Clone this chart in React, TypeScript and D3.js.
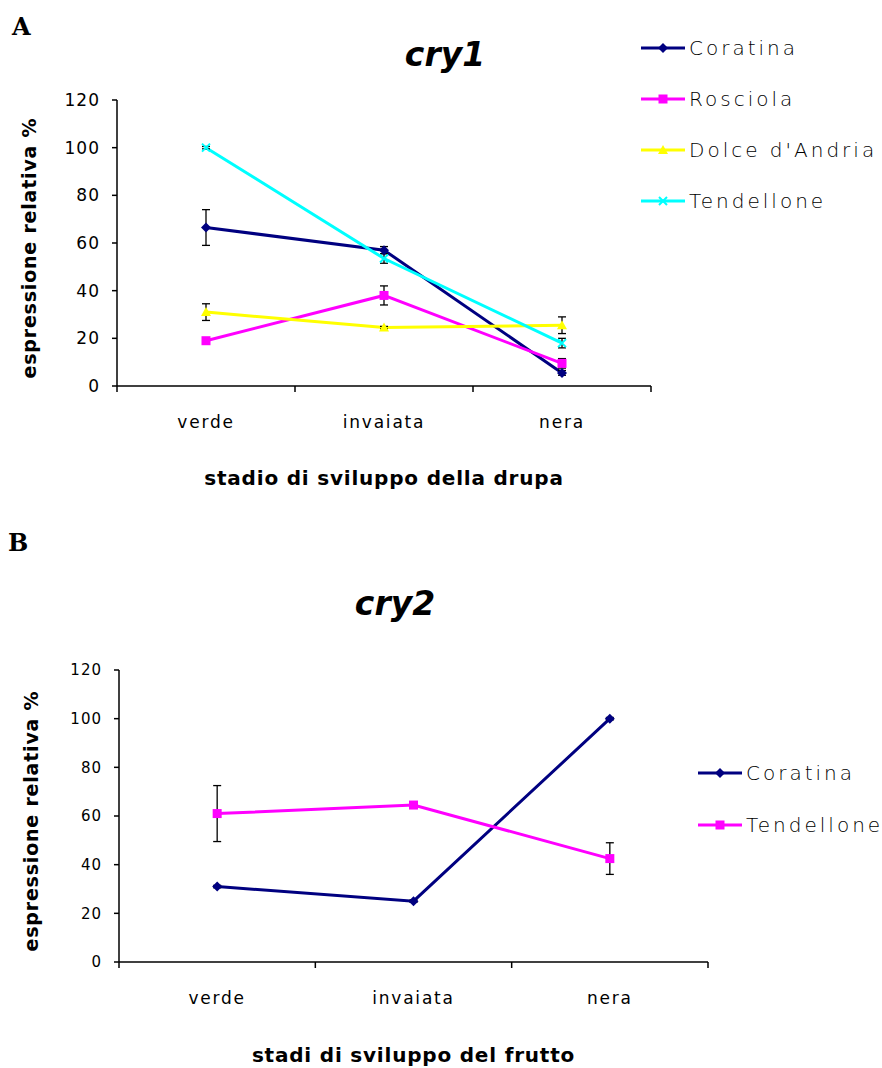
import React from 'react';
import * as d3 from 'd3';

// stages of the drupe
const stages = ['verde', 'invaiata', 'nera'];

// cry1 (panel A)
const cry1Names = ['Coratina', 'Rosciola', "Dolce d'Andria", 'Tendellone'];
const cry1Coratina = [66.5, 57, 5.5];
const cry1Rosciola = [19, 38, 9.5];
const cry1Dolce = [31, 24.5, 25.5];
const cry1Tendellone = [100, 53.5, 18];
const cry1CoratinaErr = [7.5, 1.5, 1];
const cry1RosciolaErr = [0.5, 4, 2];
const cry1DolceErr = [3.5, 0.5, 3.5];
const cry1TendelloneErr = [0.5, 2, 2];

// cry2 (panel B)
const cry2Names = ['Coratina', 'Tendellone'];
const cry2Coratina = [31, 25, 100];
const cry2Tendellone = [61, 64.5, 42.5];
const cry2CoratinaErr = [0.5, 0.5, 0.5];
const cry2TendelloneErr = [11.5, 0.5, 6.5];

const yTicks = [0, 20, 40, 60, 80, 100, 120];

const colors = ['#000080', '#ff00ff', '#ffff00', '#00ffff'];
const shapes = ['diamond', 'square', 'triangle', 'cross'];

const labelFont = '"DejaVu Sans", Verdana, sans-serif';

function Marker({ shape, x, y, color }) {
  if (shape === 'diamond') {
    const s = 5;
    return <path d={`M${x},${y - s}L${x + s},${y}L${x},${y + s}L${x - s},${y}Z`} fill={color} />;
  }
  if (shape === 'square') {
    return <rect x={x - 4.5} y={y - 4.5} width={9} height={9} fill={color} />;
  }
  if (shape === 'triangle') {
    return <path d={`M${x},${y - 5}L${x + 5},${y + 4}L${x - 5},${y + 4}Z`} fill={color} />;
  }
  return (
    <path d={`M${x - 4},${y - 4}L${x + 4},${y + 4}M${x + 4},${y - 4}L${x - 4},${y + 4}`} stroke={color} strokeWidth={2} />
  );
}

function LineChart({ left, top, width, height, series, title, titleX, titleY, xTitle, xTitleY, yTitleX, tickSize, legendX, legendY, legendGap }) {
  const x = d3.scaleBand().domain(stages).range([left, left + width]);
  const y = d3.scaleLinear().domain([0, 120]).range([top + height, top]);
  const cx = (s) => x(s) + x.bandwidth() / 2;
  const line = d3.line().x((d, i) => cx(stages[i])).y((d) => y(d));
  const bounds = [left, ...stages.map((s) => x(s) + x.bandwidth())];

  return (
    <g>
      {/* axes */}
      <line x1={left} x2={left} y1={top} y2={top + height} stroke="#000" strokeWidth={1.5} />
      <line x1={left} x2={left + width} y1={top + height} y2={top + height} stroke="#000" strokeWidth={1.5} />
      {yTicks.map((t) => (
        <g key={t}>
          <line x1={left - 5} x2={left} y1={y(t)} y2={y(t)} stroke="#000" strokeWidth={1.5} />
          <text x={left - 17} y={y(t)} dy="0.35em" textAnchor="end" fontSize={tickSize} letterSpacing={1} fontFamily={labelFont}>{t}</text>
        </g>
      ))}
      {bounds.map((b, i) => (
        <line key={i} x1={b} x2={b} y1={top + height} y2={top + height + 6} stroke="#000" strokeWidth={1.5} />
      ))}
      {stages.map((s) => (
        <text key={s} x={cx(s)} y={top + height + 42} textAnchor="middle" fontSize={17} letterSpacing={1.8} fontFamily={labelFont}>{s}</text>
      ))}
      <text x={left + width / 2} y={xTitleY} textAnchor="middle" fontSize={20} letterSpacing={0.8} fontWeight="bold" fontFamily={labelFont}>{xTitle}</text>
      <text transform={`translate(${yTitleX},${top + height / 2 + 5}) rotate(-90)`} textAnchor="middle" fontSize={19} letterSpacing={0.8} fontWeight="bold" fontFamily={labelFont}>espressione relativa %</text>
      <text x={titleX} y={titleY} textAnchor="middle" fontSize={33} fontWeight="bold" fontStyle="italic" fontFamily={labelFont}>{title}</text>

      {/* lines */}
      {series.map((sr) => (
        <path key={sr.name} d={line(sr.values)} fill="none" stroke={sr.color} strokeWidth={3} />
      ))}
      {/* error bars */}
      {series.map((sr) =>
        sr.values.map((v, i) => {
          const px = cx(stages[i]);
          const y1 = y(v + sr.err[i]);
          const y2 = y(v - sr.err[i]);
          return (
            <g key={sr.name + i} stroke="#000" strokeWidth={1.3}>
              <line x1={px} x2={px} y1={y1} y2={y2} />
              <line x1={px - 4} x2={px + 4} y1={y1} y2={y1} />
              <line x1={px - 4} x2={px + 4} y1={y2} y2={y2} />
            </g>
          );
        })
      )}
      {/* markers */}
      {series.map((sr) =>
        sr.values.map((v, i) => (
          <Marker key={sr.name + 'm' + i} shape={sr.shape} x={cx(stages[i])} y={y(v)} color={sr.color} />
        ))
      )}
      {/* legend */}
      {series.map((sr, i) => {
        const ly = legendY + i * legendGap;
        return (
          <g key={sr.name + 'l'}>
            <line x1={legendX} x2={legendX + 44} y1={ly} y2={ly} stroke={sr.color} strokeWidth={3} />
            <Marker shape={sr.shape} x={legendX + 22} y={ly} color={sr.color} />
            <text x={legendX + 48} y={ly} dy="0.35em" fontSize={20} letterSpacing={3} fontFamily={labelFont} fontWeight={300}>{sr.name}</text>
          </g>
        );
      })}
    </g>
  );
}

export default function App() {
  const seriesA = [
    { name: cry1Names[0], values: cry1Coratina, err: cry1CoratinaErr, color: colors[0], shape: shapes[0] },
    { name: cry1Names[1], values: cry1Rosciola, err: cry1RosciolaErr, color: colors[1], shape: shapes[1] },
    { name: cry1Names[2], values: cry1Dolce, err: cry1DolceErr, color: colors[2], shape: shapes[2] },
    { name: cry1Names[3], values: cry1Tendellone, err: cry1TendelloneErr, color: colors[3], shape: shapes[3] },
  ];
  const seriesB = [
    { name: cry2Names[0], values: cry2Coratina, err: cry2CoratinaErr, color: colors[0], shape: shapes[0] },
    { name: cry2Names[1], values: cry2Tendellone, err: cry2TendelloneErr, color: colors[1], shape: shapes[1] },
  ];
  return (
    <svg width={882} height={1068} style={{ position: 'absolute', left: 0, top: 0, background: '#fff' }}>
      <rect width={882} height={1068} fill="#fff" />
      <text x={12} y={35} fontSize={24} fontWeight="bold" fontFamily='"DejaVu Serif", serif'>A</text>
      <text x={8} y={551} fontSize={24} fontWeight="bold" fontFamily='"DejaVu Serif", serif'>B</text>
      <LineChart
        left={117} top={100} width={534} height={286} series={seriesA}
        title="cry1" titleX={445} titleY={66} xTitle="stadio di sviluppo della drupa" xTitleY={485}
        yTitleX={36} tickSize={17} legendX={641} legendY={48} legendGap={51}
      />
      <LineChart
        left={119} top={670} width={589} height={292} series={seriesB}
        title="cry2" titleX={395} titleY={615} xTitle="stadi di sviluppo del frutto" xTitleY={1062}
        yTitleX={38} tickSize={15} legendX={698} legendY={773} legendGap={52}
      />
    </svg>
  );
}
